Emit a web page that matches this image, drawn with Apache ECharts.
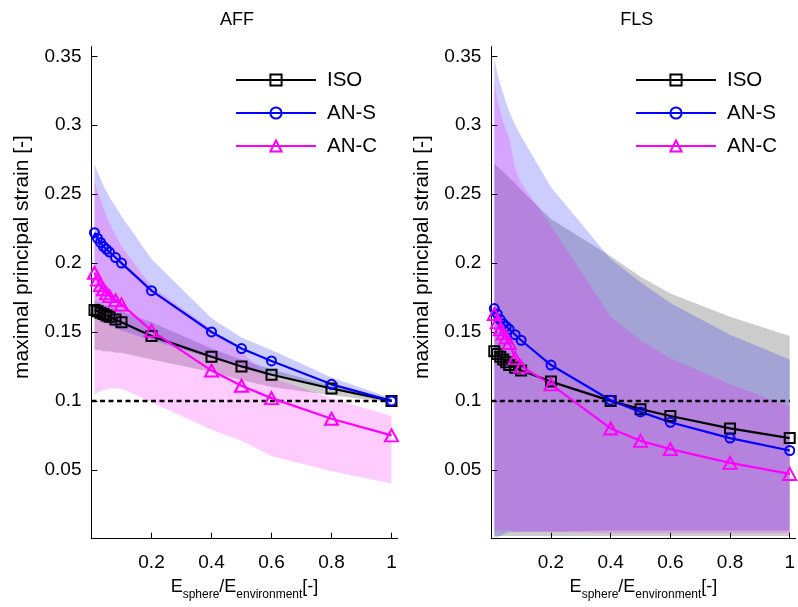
<!DOCTYPE html>
<html>
<head>
<meta charset="utf-8">
<script src="https://cdn.jsdelivr.net/npm/echarts@6/dist/echarts.min.js"></script>
<style>
html,body{margin:0;padding:0;background:#fff;}
#chart{width:798px;height:607px;}
</style>
</head>
<body>
<div id="chart"></div>
<script>
// ---------- data ----------
const X = [0.01, 0.02, 0.03, 0.04, 0.05, 0.06, 0.08, 0.1, 0.2, 0.4, 0.5, 0.6, 0.8, 1];

// AFF panel
const AFF_ISO  = [0.166, 0.165, 0.164, 0.163, 0.162, 0.161, 0.159, 0.157, 0.147, 0.132, 0.125, 0.119, 0.109, 0.100];
const AFF_ANS  = [0.222, 0.218, 0.215, 0.212, 0.210, 0.208, 0.204, 0.200, 0.180, 0.150, 0.138, 0.129, 0.112, 0.100];
const AFF_ANC  = [0.193, 0.188, 0.184, 0.181, 0.178, 0.176, 0.173, 0.170, 0.151, 0.122, 0.111, 0.102, 0.087, 0.075];
const AFF_ISO_UP = [0.173, 0.172, 0.171, 0.170, 0.169, 0.168, 0.167, 0.165, 0.157, 0.138, 0.130, 0.123, 0.111, 0.101];
const AFF_ISO_LO = [0.137, 0.137, 0.137, 0.136, 0.136, 0.136, 0.135, 0.135, 0.130, 0.121, 0.115, 0.110, 0.104, 0.099];
const AFF_ANS_UP = [0.272, 0.266, 0.261, 0.256, 0.252, 0.248, 0.241, 0.234, 0.203, 0.160, 0.146, 0.137, 0.117, 0.102];
const AFF_ANS_LO = [0.160, 0.159, 0.158, 0.157, 0.156, 0.155, 0.153, 0.151, 0.144, 0.131, 0.125, 0.119, 0.109, 0.100];
const AFF_ANC_UP = [0.260, 0.252, 0.246, 0.240, 0.234, 0.229, 0.220, 0.212, 0.183, 0.152, 0.135, 0.117, 0.102, 0.089];
const AFF_ANC_LO = [0.104, 0.106, 0.107, 0.108, 0.108, 0.109, 0.109, 0.109, 0.099, 0.079, 0.071, 0.060, 0.049, 0.040];

// FLS panel
const FLS_ISO  = [0.136, 0.134, 0.132, 0.130, 0.128, 0.126, 0.124, 0.122, 0.114, 0.100, 0.094, 0.089, 0.080, 0.073];
const FLS_ANS  = [0.167, 0.163, 0.159, 0.156, 0.154, 0.152, 0.148, 0.144, 0.126, 0.1005, 0.092, 0.0845, 0.073, 0.064];
const FLS_ANC  = [0.163, 0.157, 0.152, 0.149, 0.146, 0.142, 0.131, 0.125, 0.112, 0.080, 0.071, 0.065, 0.055, 0.047];
const FLS_ISO_UP = [0.272, 0.270, 0.268, 0.266, 0.264, 0.262, 0.258, 0.253, 0.232, 0.205, 0.190, 0.178, 0.161, 0.147];
const FLS_ISO_LO = [0.002, 0.002, 0.002, 0.002, 0.002, 0.002, 0.002, 0.002, 0.002, 0.002, 0.002, 0.002, 0.002, 0.002];
const FLS_ANS_UP = [0.348, 0.338, 0.330, 0.323, 0.316, 0.310, 0.300, 0.292, 0.255, 0.203, 0.186, 0.171, 0.148, 0.130];
const FLS_ANS_LO = [0.001, 0.001, 0.002, 0.003, 0.004, 0.005, 0.005, 0.005, 0.005, 0.006, 0.006, 0.006, 0.006, 0.006];
const FLS_ANC_UP = [0.332, 0.318, 0.310, 0.302, 0.296, 0.291, 0.268, 0.258, 0.227, 0.161, 0.144, 0.131, 0.112, 0.096];
const FLS_ANC_LO = [0.006, 0.006, 0.006, 0.006, 0.006, 0.006, 0.005, 0.005, 0.005, 0.004, 0.004, 0.004, 0.004, 0.004];

const REF_X = [0, 1];
const REF_Y = 0.1;

const Y_TICKS = [0.05, 0.1, 0.15, 0.2, 0.25, 0.3, 0.35];
const X_TICKS = [0.2, 0.4, 0.6, 0.8, 1];
const LEGEND_NAMES = ['ISO', 'AN-S', 'AN-C'];
const PANEL_TITLES = ['AFF', 'FLS'];
const Y_NAME = 'maximal principal strain [-]';

// ---------- chart ----------
const FONT = 'Liberation Sans, Arial, Helvetica, sans-serif';
const chart = echarts.init(document.getElementById('chart'), null, {renderer: 'canvas'});

const GRID_LEFTS = [91.5, 491.3];
const GRID_TOP = 46.7, GRID_W = 306, GRID_H = 492;

function xAxisFor(i) {
  return {
    type: 'value', gridIndex: i, min: 0, max: 1.02,
    axisLine: {show: true, onZero: false, lineStyle: {color: '#000', width: 1}},
    axisTick: {show: true, inside: true, length: 6, customValues: X_TICKS, lineStyle: {color: '#000'}},
    axisLabel: {show: true, customValues: X_TICKS, margin: 15, fontSize: 19, color: '#000', fontFamily: FONT,
      formatter: v => String(+(+v).toFixed(2))},
    splitLine: {show: false},
    name: 'E{sub|sphere}/E{sub|environment}[-]',
    nameLocation: 'middle', nameGap: 32,
    nameTextStyle: {
      color: '#000', fontFamily: FONT, fontSize: 18, lineHeight: 18, verticalAlign: 'top',
      rich: {sub: {fontSize: 12, lineHeight: 12, padding: [11, 0, 0, 0], verticalAlign: 'top', fontFamily: FONT, color: '#000'}}
    }
  };
}
function yAxisFor(i) {
  return {
    type: 'value', gridIndex: i, min: 0, max: 0.357,
    axisLine: {show: true, onZero: false, lineStyle: {color: '#000', width: 1}},
    axisTick: {show: true, inside: true, length: 6, customValues: Y_TICKS, lineStyle: {color: '#000'}},
    axisLabel: {show: true, customValues: Y_TICKS, margin: 10, fontSize: 19, color: '#000', fontFamily: FONT,
      formatter: v => String(+(+v).toFixed(2))},
    splitLine: {show: false}
  };
}

// shaded band between lower and upper, drawn as one polygon through the axis scales
function band(gi, lower, upper, color) {
  return {
    type: 'custom', xAxisIndex: gi, yAxisIndex: gi, silent: true, z: 1,
    data: X.map((x, k) => [x, lower[k], upper[k]]),
    encode: {x: 0, y: [1, 2]},
    renderItem: function (params, api) {
      if (params.dataIndex !== 0) return;
      const pts = [];
      for (let k = 0; k < X.length; k++) pts.push(api.coord([X[k], upper[k]]));
      for (let k = X.length - 1; k >= 0; k--) pts.push(api.coord([X[k], lower[k]]));
      return {type: 'polygon', shape: {points: pts}, style: {fill: color, stroke: null}};
    }
  };
}
function refLine(gi) {
  return {type: 'line', xAxisIndex: gi, yAxisIndex: gi, symbol: 'none', silent: true, z: 3,
    lineStyle: {color: '#000', width: 2.5, type: [5, 3.5]},
    data: REF_X.map(x => [x, REF_Y])};
}
function dataLine(gi, name, vals, color, symbol, size) {
  return {type: 'line', name: name, xAxisIndex: gi, yAxisIndex: gi, z: 4,
    symbol: symbol, symbolSize: size, showAllSymbol: true,
    lineStyle: {color: color, width: 2.2},
    itemStyle: {color: 'rgba(255,255,255,0)', borderColor: color, borderWidth: 2},
    emphasis: {disabled: true},
    data: X.map((x, k) => [x, vals[k]])};
}

const GRAY = 'rgba(0,0,0,0.2)', BLUE = 'rgba(0,0,255,0.2)', MAG = 'rgba(255,0,255,0.2)';

const panels = [
  {iso: AFF_ISO, ans: AFF_ANS, anc: AFF_ANC, isoU: AFF_ISO_UP, isoL: AFF_ISO_LO, ansU: AFF_ANS_UP, ansL: AFF_ANS_LO, ancU: AFF_ANC_UP, ancL: AFF_ANC_LO},
  {iso: FLS_ISO, ans: FLS_ANS, anc: FLS_ANC, isoU: FLS_ISO_UP, isoL: FLS_ISO_LO, ansU: FLS_ANS_UP, ansL: FLS_ANS_LO, ancU: FLS_ANC_UP, ancL: FLS_ANC_LO}
];

const series = [];
panels.forEach((p, gi) => {
  series.push(band(gi, p.isoL, p.isoU, GRAY));
  series.push(band(gi, p.ansL, p.ansU, BLUE));
  series.push(band(gi, p.ancL, p.ancU, MAG));
  series.push(refLine(gi));
  series.push(dataLine(gi, LEGEND_NAMES[0], p.iso, '#000000', 'rect', 10));
  series.push(dataLine(gi, LEGEND_NAMES[1], p.ans, '#0000ff', 'circle', 9));
  series.push(dataLine(gi, LEGEND_NAMES[2], p.anc, '#ff00ff', 'triangle', [13, 12]));
});

function legendFor(left) {
  return {
    data: LEGEND_NAMES, orient: 'vertical', left: left, top: 64.5,
    itemWidth: 80, itemHeight: 14, itemGap: 12, selectedMode: false,
    textStyle: {fontSize: 20.5, color: '#000', fontFamily: FONT, padding: [0, 0, 0, 6]}
  };
}

const graphics = [];
PANEL_TITLES.forEach((t, i) => {
  graphics.push({type: 'text', x: GRID_LEFTS[i] + 145.5, y: 20, silent: true,
    style: {text: t, fontSize: 18, fontFamily: FONT, fill: '#000', textAlign: 'center', textVerticalAlign: 'middle'}});
  graphics.push({type: 'text', x: GRID_LEFTS[i] - 69.5, y: 257, rotation: Math.PI / 2, silent: true,
    style: {text: Y_NAME, fontSize: 21, fontFamily: FONT, fill: '#000', textAlign: 'center', textVerticalAlign: 'middle'}});
});

chart.setOption({
  animation: false,
  backgroundColor: '#fff',
  textStyle: {fontFamily: FONT},
  grid: GRID_LEFTS.map(l => ({left: l, top: GRID_TOP, width: GRID_W, height: GRID_H, containLabel: false})),
  xAxis: [xAxisFor(0), xAxisFor(1)],
  yAxis: [yAxisFor(0), yAxisFor(1)],
  legend: [legendFor(230), legendFor(630)],
  graphic: graphics,
  series: series
});
</script>
</body>
</html>
